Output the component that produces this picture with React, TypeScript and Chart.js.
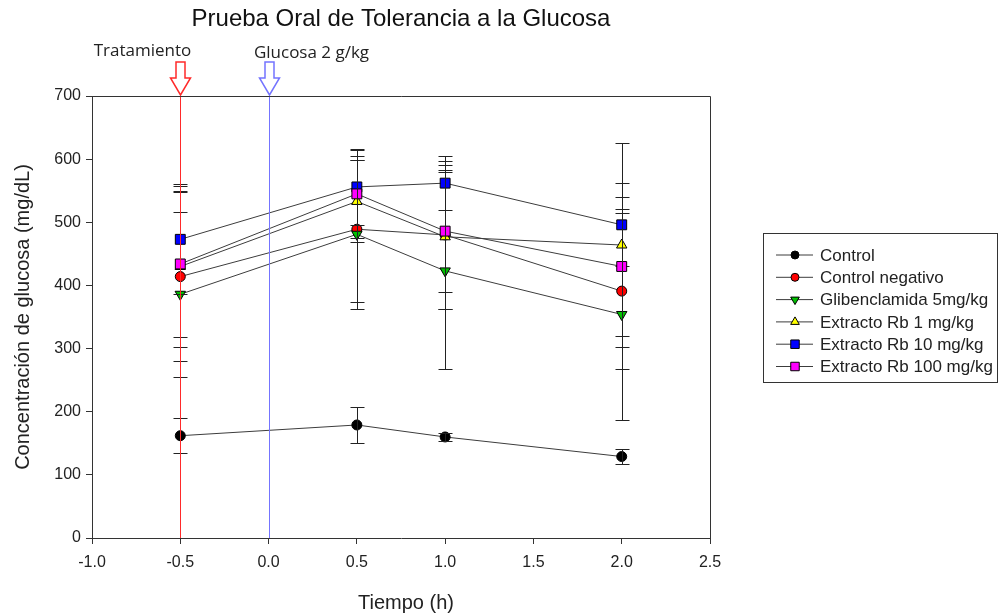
import React, { useEffect, useRef } from 'react';
import { Chart, registerables } from 'chart.js';
import { drawPoint } from 'chart.js/helpers';

Chart.register(...registerables);

// ---------- data ----------
const chartTitle = 'Prueba Oral de Tolerancia a la Glucosa';
const xAxisTitle = 'Tiempo (h)';
const yAxisTitle = 'Concentración de glucosa (mg/dL)';

const timePoints = [-0.5, 0.5, 1.0, 2.0];

const seriesNames = [
  'Control',
  'Control negativo',
  'Glibenclamida 5mg/kg',
  'Extracto Rb 1 mg/kg',
  'Extracto Rb 10 mg/kg',
  'Extracto Rb 100 mg/kg',
];

const controlMean = [162, 179, 160, 129];
const controlErr = [28, 29, 7, 12];
const negativeMean = [414, 489, 480, 391];
const negativeErr = [134, 116, 117, 123];
const glibenclamideMean = [386, 481, 423, 354];
const glibenclamideErr = [131, 118, 156, 167];
const rb1Mean = [430, 533, 477, 464];
const rb1Err = [128, 65, 114, 161];
const rb10Mean = [473, 556, 562, 496];
const rb10Err = [87, 60, 43, 66];
const rb100Mean = [434, 545, 486, 430];
const rb100Err = [115, 70, 97, 110];

const seriesMeans = [controlMean, negativeMean, glibenclamideMean, rb1Mean, rb10Mean, rb100Mean];
const seriesErrs = [controlErr, negativeErr, glibenclamideErr, rb1Err, rb10Err, rb100Err];

const xTicks = [-1.0, -0.5, 0.0, 0.5, 1.0, 1.5, 2.0, 2.5];
const yTicks = [0, 100, 200, 300, 400, 500, 600, 700];

const eventTimes = [-0.5, 0.0];
const eventLabels = ['Tratamiento', 'Glucosa 2 g/kg'];

// ---------- styles ----------
const markerStyles = [
  { pointStyle: 'circle', rotation: 0, radius: 5, fill: '#000000' },
  { pointStyle: 'circle', rotation: 0, radius: 5, fill: '#ff0000' },
  { pointStyle: 'triangle', rotation: 180, radius: 6, fill: '#00c000' },
  { pointStyle: 'triangle', rotation: 0, radius: 6, fill: '#ffff00' },
  { pointStyle: 'rect', rotation: 0, radius: 7, fill: '#0000ff' },
  { pointStyle: 'rect', rotation: 0, radius: 7, fill: '#ff00ff' },
];
const eventColors = ['#ff2a2a', '#7474ff'];
const eventLabelOffsets = [-38, 42];
const FONT = "'Liberation Sans', Arial, sans-serif";
const LINE_COLOR = '#3c3c3c';

const errorBarPlugin = {
  id: 'errorBars',
  afterDatasetDraw(chart: any, args: any) {
    const i = args.index;
    const meta = args.meta;
    const ys = chart.scales.y;
    const ctx = chart.ctx;
    const errs = seriesErrs[i];
    const means = seriesMeans[i];
    ctx.save();
    ctx.strokeStyle = '#222';
    ctx.lineWidth = 1;
    meta.data.forEach((pt: any, j: number) => {
      const x = Math.round(pt.x) + 0.5;
      const yt = Math.round(ys.getPixelForValue(means[j] + errs[j])) + 0.5;
      const yb = Math.round(ys.getPixelForValue(means[j] - errs[j])) + 0.5;
      ctx.beginPath();
      ctx.moveTo(x, yt);
      ctx.lineTo(x, yb);
      ctx.moveTo(x - 7, yt);
      ctx.lineTo(x + 7, yt);
      ctx.moveTo(x - 7, yb);
      ctx.lineTo(x + 7, yb);
      ctx.stroke();
    });
    ctx.restore();
  },
};

const decorPlugin = {
  id: 'decor',
  afterDatasetsDraw(chart: any) {
    const { ctx, chartArea, scales } = chart;
    ctx.save();
    eventTimes.forEach((t, k) => {
      const x = Math.round(scales.x.getPixelForValue(t)) + 0.5;
      ctx.strokeStyle = eventColors[k];
      ctx.lineWidth = 1;
      ctx.beginPath();
      ctx.moveTo(x, chartArea.top);
      ctx.lineTo(x, chartArea.bottom);
      ctx.stroke();
    });
    ctx.restore();
  },
  afterDraw(chart: any) {
    const { ctx, chartArea, scales } = chart;
    ctx.save();
    // frame top/right
    ctx.strokeStyle = '#333';
    ctx.lineWidth = 1;
    ctx.beginPath();
    ctx.moveTo(chartArea.left, chartArea.top + 0.5);
    ctx.lineTo(chartArea.right + 0.5, chartArea.top + 0.5);
    ctx.lineTo(chartArea.right + 0.5, chartArea.bottom);
    ctx.stroke();

    // title
    const cx = (chartArea.left + chartArea.right) / 2;
    ctx.fillStyle = '#111';
    ctx.font = `24px ${FONT}`;
    ctx.textAlign = 'center';
    ctx.textBaseline = 'middle';
    ctx.fillText(chartTitle, cx, 19);

    // axis titles
    ctx.font = `20px ${FONT}`;
    ctx.fillStyle = '#222';
    ctx.fillText(xAxisTitle, cx + 5, 603);
    ctx.save();
    ctx.translate(23, (chartArea.top + chartArea.bottom) / 2);
    ctx.rotate(-Math.PI / 2);
    ctx.fillText(yAxisTitle, 0, 0);
    ctx.restore();

    // event arrows and labels
    eventTimes.forEach((t, k) => {
      const x = Math.round(scales.x.getPixelForValue(t)) + 0.5;
      const tip = chartArea.top;
      ctx.strokeStyle = eventColors[k];
      ctx.fillStyle = '#fff';
      ctx.lineWidth = 1.5;
      ctx.beginPath();
      ctx.moveTo(x - 4.5, 62);
      ctx.lineTo(x + 4.5, 62);
      ctx.lineTo(x + 4.5, 78);
      ctx.lineTo(x + 10, 78);
      ctx.lineTo(x, tip - 1);
      ctx.lineTo(x - 10, 78);
      ctx.lineTo(x - 4.5, 78);
      ctx.closePath();
      ctx.fill();
      ctx.stroke();
      ctx.fillStyle = '#222';
      ctx.font = `17px 'Open Sans', sans-serif`;
      ctx.textAlign = 'center';
      ctx.textBaseline = 'alphabetic';
      ctx.fillText(eventLabels[k], x + eventLabelOffsets[k], k === 0 ? 56 : 58);
    });

    // legend
    const lx = 763.5, ly = 233.5, lw = 234, lh = 149;
    ctx.strokeStyle = '#333';
    ctx.lineWidth = 1;
    ctx.strokeRect(lx, ly, lw, lh);
    ctx.font = `17px ${FONT}`;
    ctx.textAlign = 'left';
    ctx.textBaseline = 'middle';
    seriesNames.forEach((name, k) => {
      const y = 255 + k * 22.3;
      ctx.strokeStyle = LINE_COLOR;
      ctx.lineWidth = 1;
      ctx.beginPath();
      ctx.moveTo(776, y);
      ctx.lineTo(813, y);
      ctx.stroke();
      const m = markerStyles[k];
      ctx.fillStyle = m.fill;
      ctx.strokeStyle = '#000';
      drawPoint(ctx, { pointStyle: m.pointStyle, rotation: m.rotation, radius: m.radius - 1, borderWidth: 1 } as any, 795, y);
      ctx.fillStyle = '#222';
      ctx.fillText(name, 820, y + 1);
    });
    ctx.restore();
  },
};

export default function App() {
  const canvasRef = useRef<HTMLCanvasElement | null>(null);

  useEffect(() => {
    const canvas = canvasRef.current;
    if (!canvas) return;
    const datasets = seriesNames.map((name, i) => ({
      label: name,
      data: timePoints.map((t, j) => ({ x: t, y: seriesMeans[i][j] })),
      borderColor: LINE_COLOR,
      borderWidth: 1,
      backgroundColor: markerStyles[i].fill,
      pointBackgroundColor: markerStyles[i].fill,
      pointBorderColor: '#000',
      pointBorderWidth: 1,
      pointStyle: markerStyles[i].pointStyle,
      pointRotation: markerStyles[i].rotation,
      pointRadius: markerStyles[i].radius,
      fill: false,
      tension: 0,
      order: seriesNames.length - i,
    }));

    const chart = new Chart(canvas, {
      type: 'line',
      data: { datasets },
      options: {
        animation: false,
        responsive: false,
        devicePixelRatio: 1,
        layout: { padding: { left: 0, top: 96, right: 292, bottom: 0 } },
        plugins: { legend: { display: false }, tooltip: { enabled: false }, title: { display: false } },
        scales: {
          x: {
            type: 'linear',
            min: -1,
            max: 2.5,
            afterBuildTicks: (scale: any) => {
              scale.ticks = xTicks.map((v) => ({ value: v }));
            },
            afterFit: (scale: any) => {
              scale.height = 77;
            },
            ticks: {
              callback: (v: any) => Number(v).toFixed(1),
              font: { family: FONT, size: 16 },
              color: '#222',
              padding: 9,
              maxRotation: 0,
              autoSkip: false,
            },
            grid: { drawOnChartArea: false, drawTicks: true, tickLength: 6, color: '#333' },
            border: { display: true, color: '#333', width: 1 },
          },
          y: {
            type: 'linear',
            min: 0,
            max: 700,
            afterBuildTicks: (scale: any) => {
              scale.ticks = yTicks.map((v) => ({ value: v }));
            },
            afterFit: (scale: any) => {
              scale.width = 92;
            },
            ticks: {
              font: { family: FONT, size: 16 },
              color: '#222',
              padding: 5,
              autoSkip: false,
            },
            grid: { drawOnChartArea: false, drawTicks: true, tickLength: 6, color: '#333' },
            border: { display: true, color: '#333', width: 1 },
          },
        },
      },
      plugins: [errorBarPlugin, decorPlugin],
    } as any);

    return () => chart.destroy();
  }, []);

  return (
    <div style={{ position: 'absolute', left: 0, top: 0, width: 1002, height: 615, background: '#fff' }}>
      <canvas ref={canvasRef} width={1002} height={615} style={{ width: 1002, height: 615, display: 'block' }} />
    </div>
  );
}
